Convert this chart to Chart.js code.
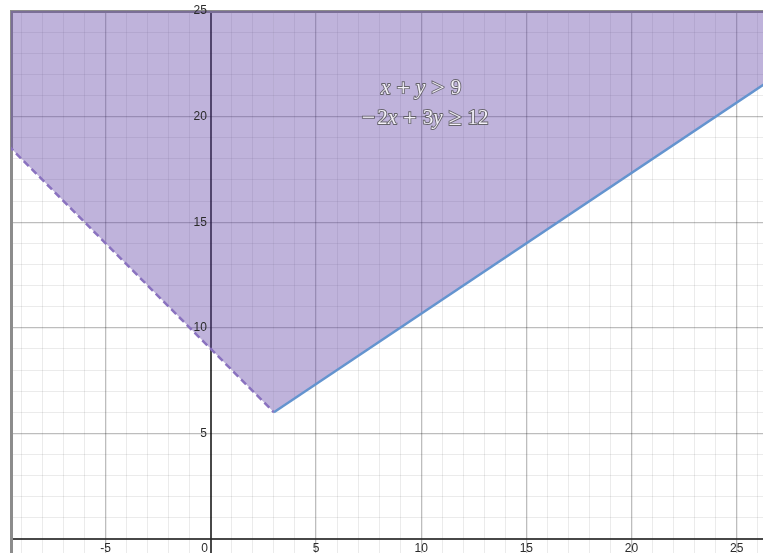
<!DOCTYPE html>
<html lang="en">
<head>
  <meta charset="UTF-8" />
  <title>x + y > 9, -2x + 3y ≥ 12</title>
  <script src="https://cdn.jsdelivr.net/npm/chart.js"></script>
  <style>
    html, body { margin: 0; padding: 0; background: #fff; }
    canvas { display: block; }
  </style>
</head>
<body>
  <canvas id="graph" width="763" height="553"></canvas>

  <script>
    // view window (graph units)
    const X_MIN = -9.5, X_MAX = 26.25;
    const Y_MIN = -0.66, Y_MAX = 25;

    // boundary of the feasible region: dashed x + y = 9, then solid -2x + 3y = 12
    const boundaryX = [-10, 3, 27];
    const boundaryY = [19, 6, 22];

    // labelled ticks
    const xTickLabels = [-5, 0, 5, 10, 15, 20, 25];
    const yTickLabels = [5, 10, 15, 20, 25];

    // inequality label, anchored at a graph point; 'op' tokens get space on both sides
    const labelAnchor = [10, 20.6];
    const labelLines = [
      [['x', 'i'], ['+', 'op'], ['y', 'i'], ['>', 'op'], ['9', 'n']],
      [['\u2212', 'u'], ['2', 'n'], ['x', 'i'], ['+', 'op'], ['3', 'n'], ['y', 'i'], ['\u2265', 'op'], ['12', 'n']]
    ];

    const PURPLE = '#8a72bf';
    const BLUE = '#6494cf';

    const boundary = boundaryX.map((x, i) => ({ x: x, y: boundaryY[i] }));

    // one grid line per whole unit (Chart.js drops the 0 tick next to a fractional min)
    function unitTicks(scale) {
      const t = [];
      for (let v = Math.ceil(scale.min); v <= Math.floor(scale.max); v++) t.push({ value: v });
      scale.ticks = t;
    }

    function gridColor(c) {
      const v = c.tick.value;
      if (v === 0) return 'rgba(40,40,40,0.85)';
      if (v % 5 === 0) return 'rgba(0,0,0,0.26)';
      return 'rgba(0,0,0,0.08)';
    }
    function gridWidth(c) {
      const v = c.tick.value;
      if (v === 0) return 2;
      if (v % 5 === 0) return 1.3;
      return 1;
    }

    // tick labels placed next to the axes (Desmos style)
    const axisLabels = {
      id: 'axisLabels',
      afterDatasetsDraw(chart) {
        const g = chart.ctx;
        const xs = chart.scales.x, ys = chart.scales.y;
        const x0 = xs.getPixelForValue(0), y0 = ys.getPixelForValue(0);
        g.save();
        g.font = '12px "Liberation Sans", Arial, sans-serif';
        g.fillStyle = '#2b2b2b';
        g.textBaseline = 'middle';
        xTickLabels.forEach(v => {
          const px = xs.getPixelForValue(v);
          if (v === 0) {
            g.textAlign = 'right';
            g.fillText('0', x0 - 3, y0 + 10);
          } else {
            g.textAlign = 'center';
            g.fillText(v < 0 ? '-' + Math.abs(v) : String(v), px, y0 + 10);
          }
        });
        g.textAlign = 'right';
        yTickLabels.forEach(v => {
          g.fillText(String(v), x0 - 4, ys.getPixelForValue(v));
        });
        g.restore();
      }
    };

    const OP_GAP = 6;
    function tokenFont(kind) {
      if (kind === 'i') return 'italic 21px "Liberation Serif", "DejaVu Serif", serif';
      if (kind === 'op' || kind === 'u') return '24px "Liberation Serif", "DejaVu Serif", serif';
      return '21px "Liberation Serif", "DejaVu Serif", serif';
    }
    function drawMathLine(g, tokens, cx, cy) {
      let total = 0;
      const widths = tokens.map(t => {
        g.font = tokenFont(t[1]);
        const w = g.measureText(t[0]).width + (t[1] === 'op' ? 2 * OP_GAP : 0) + (t[1] === 'u' ? 2 : 0);
        total += w;
        return w;
      });
      let x = cx - total / 2;
      tokens.forEach((t, i) => {
        const tx = x + (t[1] === 'op' ? OP_GAP : 0);
        g.font = tokenFont(t[1]);
        g.lineWidth = 1.8;
        g.strokeStyle = 'rgba(80,80,80,0.8)';
        g.strokeText(t[0], tx, cy);
        g.fillStyle = '#f4f1f9';
        g.fillText(t[0], tx, cy);
        x += widths[i];
      });
    }

    const mathLabel = {
      id: 'mathLabel',
      afterDraw(chart) {
        const g = chart.ctx;
        const cx = chart.scales.x.getPixelForValue(labelAnchor[0]);
        const cy = chart.scales.y.getPixelForValue(labelAnchor[1]);
        g.save();
        g.textBaseline = 'middle';
        g.textAlign = 'left';
        drawMathLine(g, labelLines[0], cx, cy - 15);
        drawMathLine(g, labelLines[1], cx + 4, cy + 15);
        g.restore();
      }
    };

    new Chart(document.getElementById('graph'), {
      type: 'scatter',
      data: {
        datasets: [{
          data: boundary,
          showLine: true,
          pointRadius: 0,
          borderWidth: 2.5,
          borderColor: BLUE,
          backgroundColor: 'rgba(96,66,166,0.4)',
          fill: 'end',
          segment: {
            borderColor: c => c.p0DataIndex === 0 ? PURPLE : BLUE,
            borderDash: c => c.p0DataIndex === 0 ? [7, 4] : []
          }
        }]
      },
      options: {
        responsive: false,
        animation: false,
        layout: { padding: { left: 11, top: 11, right: 0, bottom: 0 } },
        plugins: {
          legend: { display: false },
          tooltip: { enabled: false }
        },
        scales: {
          x: {
            type: 'linear',
            position: 'top',
            min: X_MIN,
            max: X_MAX,
            afterBuildTicks: unitTicks,
            ticks: { display: false },
            grid: { color: gridColor, lineWidth: gridWidth, drawTicks: false },
            border: { display: true, color: '#8c8c8c', width: 3 }
          },
          y: {
            type: 'linear',
            position: 'left',
            min: Y_MIN,
            max: Y_MAX,
            afterBuildTicks: unitTicks,
            ticks: { display: false },
            grid: { color: gridColor, lineWidth: gridWidth, drawTicks: false },
            border: { display: true, color: '#8c8c8c', width: 3 }
          }
        }
      },
      plugins: [axisLabels, mathLabel]
    });
  </script>
</body>
</html>
